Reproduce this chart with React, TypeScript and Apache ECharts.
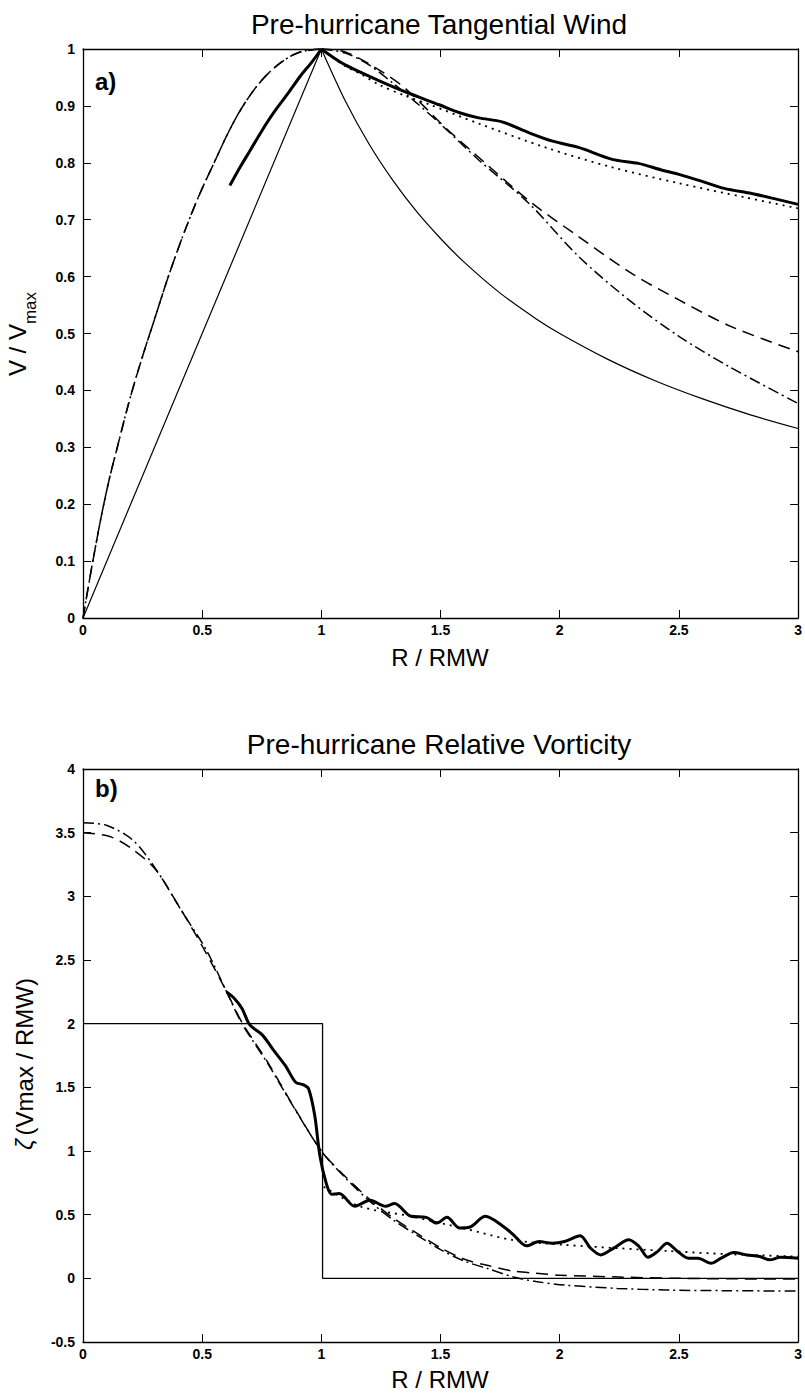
import React, { useEffect, useRef } from "react";
import * as echarts from "echarts";

// ---------- Data ----------
// Panel a) Pre-hurricane Tangential Wind : [R/RMW, V/Vmax]
const TW_THIN_IN: [number, number][] = [[0, 0], [1, 1]];
const TW_THIN_OUT: [number, number][] = [
  [1, 1], [1.1, 0.909], [1.2, 0.833], [1.3, 0.769], [1.4, 0.714], [1.5, 0.667],
  [1.6, 0.625], [1.75, 0.571], [1.9, 0.526], [2, 0.5], [2.2, 0.455], [2.4, 0.417],
  [2.6, 0.385], [2.8, 0.357], [3, 0.333],
];
const TW_INNER: [number, number][] = [
  [0, 0], [0.05, 0.12], [0.1, 0.225], [0.15, 0.31], [0.2, 0.39], [0.25, 0.46],
  [0.3, 0.525], [0.35, 0.59], [0.4, 0.65], [0.45, 0.705], [0.5, 0.755], [0.55, 0.8],
  [0.6, 0.845], [0.65, 0.885], [0.7, 0.918], [0.75, 0.945], [0.8, 0.966],
  [0.85, 0.982], [0.9, 0.993], [0.95, 0.998], [1, 1],
];
const TW_DASHDOT_OUT: [number, number][] = [
  [1, 1], [1.1, 0.993], [1.2, 0.972], [1.3, 0.94], [1.4, 0.905], [1.5, 0.868],
  [1.66, 0.805], [1.87, 0.729], [2.08, 0.635], [2.29, 0.559], [2.5, 0.495],
  [2.71, 0.442], [3, 0.377],
];
const TW_DASHED_OUT: [number, number][] = [
  [1, 1], [1.1, 0.995], [1.243, 0.963], [1.354, 0.93], [1.52, 0.862], [1.689, 0.799],
  [1.884, 0.729], [2.08, 0.67], [2.3, 0.606], [2.5, 0.559], [2.72, 0.512], [3, 0.468],
];
const TW_THICK_IN: [number, number][] = [
  [0.616, 0.76], [0.66, 0.793], [0.703, 0.823], [0.75, 0.856], [0.8, 0.888],
  [0.86, 0.922], [0.913, 0.953], [0.96, 0.977], [1, 1],
];
const TW_THICK_OUT: [number, number][] = [
  [1, 1], [1.05, 0.985], [1.1, 0.972], [1.17, 0.958], [1.243, 0.944], [1.35, 0.925],
  [1.494, 0.902], [1.58, 0.888], [1.66, 0.879], [1.758, 0.872], [1.87, 0.853],
  [1.97, 0.838], [2.079, 0.827], [2.22, 0.806], [2.33, 0.799], [2.43, 0.787],
  [2.497, 0.78], [2.6, 0.767], [2.69, 0.755], [2.805, 0.746], [2.9, 0.737], [3, 0.727],
];
const TW_DOTTED: [number, number][] = [
  [1, 1], [1.05, 0.984], [1.1, 0.97], [1.17, 0.955], [1.243, 0.937], [1.35, 0.918],
  [1.45, 0.903], [1.66, 0.869], [1.94, 0.827], [2.22, 0.792], [2.5, 0.764],
  [2.78, 0.739], [3, 0.72],
];

// Panel b) Pre-hurricane Relative Vorticity : [R/RMW, zeta]
const VO_STEP: [number, number][] = [[0, 2], [1.005, 2], [1.005, 0], [3, 0]];
const VO_DASHED: [number, number][] = [
  [0, 3.5], [0.112, 3.47], [0.2, 3.38], [0.3, 3.22], [0.4, 2.93], [0.5, 2.61],
  [0.6, 2.26], [0.667, 2.01], [0.774, 1.7], [0.882, 1.355], [1, 1], [1.1, 0.8],
  [1.2, 0.625], [1.3, 0.475], [1.4, 0.355], [1.5, 0.24], [1.6, 0.15], [1.7, 0.1],
  [1.8, 0.058], [1.9, 0.04], [2, 0.025], [2.25, 0.01], [2.5, 0.0], [2.75, -0.004],
  [3, -0.006],
];
const VO_DASHDOT: [number, number][] = [
  [0, 3.577], [0.098, 3.558], [0.21, 3.44], [0.307, 3.21], [0.419, 2.87],
  [0.517, 2.58], [0.6, 2.26], [0.667, 2.0], [0.774, 1.69], [0.882, 1.35], [1, 1.0],
  [1.1, 0.79], [1.2, 0.61], [1.3, 0.46], [1.4, 0.34], [1.5, 0.225], [1.6, 0.135],
  [1.7, 0.075], [1.806, 0.01], [1.9, -0.025], [2.02, -0.053], [2.24, -0.079],
  [2.45, -0.092], [2.7, -0.097], [3, -0.1],
];
const VO_DOTTED: [number, number][] = [
  [1.01, 0.72], [1.16, 0.566], [1.376, 0.487], [1.59, 0.395], [1.806, 0.3],
  [2.02, 0.263], [2.24, 0.237], [2.45, 0.215], [2.7, 0.19], [3, 0.171],
];
const VO_THICK: [number, number][] = [
  [0.602, 2.25], [0.634, 2.2], [0.667, 2.12], [0.7, 1.99], [0.753, 1.91], [0.796, 1.8],
  [0.849, 1.67], [0.892, 1.54], [0.925, 1.52], [0.946, 1.49], [0.972, 1.28],
  [0.994, 0.96], [1.02, 0.75], [1.043, 0.66], [1.075, 0.666], [1.14, 0.566],
  [1.204, 0.613], [1.269, 0.566], [1.307, 0.587], [1.376, 0.487], [1.44, 0.479],
  [1.484, 0.434], [1.527, 0.479], [1.58, 0.395], [1.624, 0.403], [1.688, 0.487],
  [1.763, 0.408], [1.806, 0.342], [1.86, 0.255], [1.914, 0.289], [1.968, 0.276],
  [2.02, 0.289], [2.086, 0.334], [2.129, 0.237], [2.172, 0.184], [2.226, 0.237],
  [2.29, 0.303], [2.333, 0.25], [2.37, 0.166], [2.41, 0.21], [2.45, 0.276],
  [2.495, 0.21], [2.54, 0.158], [2.58, 0.158], [2.634, 0.118], [2.677, 0.158],
  [2.73, 0.203], [2.785, 0.184], [2.839, 0.171], [2.882, 0.145], [2.925, 0.166],
  [3, 0.158],
];

// Axis ranges / ticks
const X_RANGE = { min: 0, max: 3, interval: 0.5 };
const YA_RANGE = { min: 0, max: 1, interval: 0.1 };
const YB_RANGE = { min: -0.5, max: 4, interval: 0.5 };

const TITLE_A = "Pre-hurricane Tangential Wind";
const TITLE_B = "Pre-hurricane Relative Vorticity";
const XNAME = "R / RMW";

const FONT = '"Liberation Sans", Arial, Helvetica, sans-serif';

export default function App() {
  const ref = useRef<HTMLDivElement>(null);

  useEffect(() => {
    if (!ref.current) return;
    const chart = echarts.init(ref.current, undefined, { renderer: "svg" });

    const axisLine = { show: true, onZero: false, lineStyle: { color: "#000", width: 1.3 } };
    const tick = { show: true, inside: true, length: 8, lineStyle: { color: "#000", width: 1 } };
    const label = { show: true, color: "#000", fontFamily: FONT, fontWeight: "bold" as const, fontSize: 14 };

    const mkX = (gi: number, pos: "top" | "bottom") => ({
      type: "value", gridIndex: gi, position: pos, ...X_RANGE,
      axisLine, axisTick: tick, splitLine: { show: false },
      axisLabel: pos === "bottom" ? { ...label, margin: 5 } : { show: false },
    });
    const mkY = (gi: number, pos: "left" | "right", r: any) => ({
      type: "value", gridIndex: gi, position: pos, ...r,
      axisLine, axisTick: tick, splitLine: { show: false },
      axisLabel: pos === "left" ? { ...label, margin: 8 } : { show: false },
    });

    const line = (data: [number, number][], xi: number, yi: number, width: number, type: any, smooth: number | boolean) => ({
      type: "line", data, xAxisIndex: xi, yAxisIndex: yi, symbol: "none", showSymbol: false,
      smooth, silent: true,
      lineStyle: { color: "#000", width, type },
      z: width > 2 ? 3 : 2,
    });

    const DOT = [2, 5];
    const DASH = [12, 7];
    const DASHDOT = [11, 4, 2, 4];

    const txt = (text: string, x: number, y: number, size: number, opts: any = {}) => ({
      type: "text", x, y, rotation: opts.rotation || 0,
      style: {
        text, fill: "#000", font: `${opts.weight || "normal"} ${size}px ${FONT}`,
        align: opts.align || "center", verticalAlign: "middle",
      },
    });

    chart.setOption({
      animation: false,
      backgroundColor: "#fff",
      grid: [
        { left: 83, top: 49, width: 716, height: 569, containLabel: false },
        { left: 83, top: 769, width: 716, height: 573, containLabel: false },
      ],
      xAxis: [mkX(0, "bottom"), mkX(0, "top"), mkX(1, "bottom"), mkX(1, "top")],
      yAxis: [mkY(0, "left", YA_RANGE), mkY(0, "right", YA_RANGE), mkY(1, "left", YB_RANGE), mkY(1, "right", YB_RANGE)],
      series: [
        line(TW_THIN_IN, 0, 0, 1.2, "solid", false),
        line(TW_THIN_OUT, 0, 0, 1.2, "solid", 0.3),
        line(TW_INNER, 0, 0, 1.5, DASHDOT, 0.4),
        line(TW_INNER, 0, 0, 1.5, DASH, 0.4),
        line(TW_DASHDOT_OUT, 0, 0, 1.5, DASHDOT, 0.3),
        line(TW_DASHED_OUT, 0, 0, 1.5, DASH, 0.3),
        line(TW_DOTTED, 0, 0, 1.8, DOT, 0.3),
        line(TW_THICK_IN, 0, 0, 3, "solid", 0.3),
        line(TW_THICK_OUT, 0, 0, 3, "solid", 0.3),
        line(VO_STEP, 2, 2, 1.3, "solid", false),
        line(VO_DASHED, 2, 2, 1.5, DASH, 0.3),
        line(VO_DASHDOT, 2, 2, 1.5, DASHDOT, 0.3),
        line(VO_DOTTED, 2, 2, 1.8, DOT, 0.3),
        line(VO_THICK, 2, 2, 3, "solid", 0.3),
      ],
      graphic: [
        txt(TITLE_A, 439, 24, 28),
        txt(TITLE_B, 439, 744, 28),
        txt(XNAME, 440, 657, 24),
        txt(XNAME, 440, 1379, 24),
        txt("a)", 95, 81, 24, { weight: "bold", align: "left" }),
        txt("b)", 95, 788, 24, { weight: "bold", align: "left" }),
        {
          type: "text", x: 22, y: 334, rotation: Math.PI / 2,
          style: {
            text: "{v|V / V}{s|max}", fill: "#000", align: "center", verticalAlign: "middle",
            rich: {
              v: { font: `normal 24px ${FONT}`, fill: "#000", verticalAlign: "top", lineHeight: 28 },
              s: { font: `normal 17px ${FONT}`, fill: "#000", verticalAlign: "bottom", lineHeight: 34, padding: [12, 0, 0, 0] },
            },
          },
        },
        {
          type: "text", x: 24, y: 1064, rotation: Math.PI / 2,
          style: {
            text: "{z|ζ} {t|(Vmax / RMW)}", fill: "#000", align: "center", verticalAlign: "middle",
            rich: {
              z: { font: `italic 24px ${FONT}`, fill: "#000" },
              t: { font: `normal 24px ${FONT}`, fill: "#000" },
            },
          },
        },
      ],
    });

    return () => chart.dispose();
  }, []);

  return (
    <div
      ref={ref}
      style={{ position: "absolute", left: 0, top: 0, width: 805, height: 1395, background: "#fff" }}
    />
  );
}
